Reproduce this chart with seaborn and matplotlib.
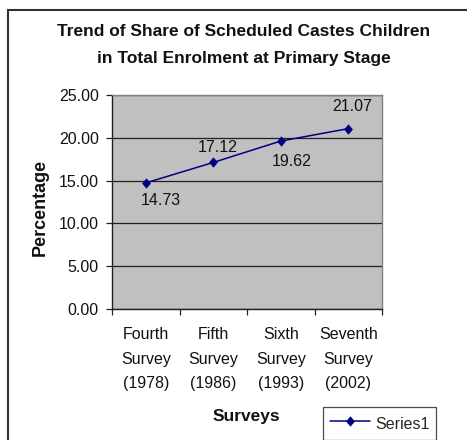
import matplotlib
matplotlib.use("Agg")
import matplotlib.pyplot as plt
from matplotlib.patches import Rectangle
from matplotlib.path import Path
from matplotlib.ticker import FixedLocator, NullFormatter
import seaborn as sns
import pandas as pd

# Survey rounds and the share of Scheduled Castes children (%)
surveys = ["Fourth\nSurvey\n(1978)", "Fifth\nSurvey\n(1986)",
           "Sixth\nSurvey\n(1993)", "Seventh\nSurvey\n(2002)"]
share = [14.73, 17.12, 19.62, 21.07]
series_name = "Series1"
y_ticks = [0, 5, 10, 15, 20, 25]
title_lines = ["Trend of Share of Scheduled Castes Children",
               "in Total Enrolment at Primary Stage"]

df = pd.DataFrame({"pos": range(len(surveys)), "share": share, "series": series_name})

sns.set_theme(style="white")
plt.rcParams["font.family"] = ["Liberation Sans", "DejaVu Sans"]

W, H = 467, 440
fig = plt.figure(figsize=(W / 100, H / 100), dpi=100)
fig.patch.set_facecolor("white")

# outer chart frame (extends past the right and bottom edges)
fig.patches.append(Rectangle((8 / W, -0.2), 2.0, 1 - 10 / H + 0.2,
                             transform=fig.transFigure, fill=False,
                             edgecolor="#303030", linewidth=1.5))

left, right, top, bottom = 112, 382, 95, 309
ax = fig.add_axes([left / W, 1 - bottom / H, (right - left) / W, (bottom - top) / H])
ax.set_facecolor("#C0C0C0")

diamond = Path([(0, 1), (0.85, 0), (0, -1), (-0.85, 0), (0, 1)],
               [Path.MOVETO, Path.LINETO, Path.LINETO, Path.LINETO, Path.CLOSEPOLY])

sns.lineplot(data=df, x="pos", y="share", hue="series", palette=["#000080"],
             marker=diamond, markersize=7.5, markeredgewidth=0,
             linewidth=1.1, ax=ax, legend=True)

# value labels next to each point (offsets in points)
offsets = [(11, -13), (3, 11), (8, -15), (3, 16)]
for i, (v, (dx, dy)) in enumerate(zip(share, offsets)):
    ax.annotate(f"{v:.2f}", (i, v), xytext=(dx, dy), textcoords="offset points",
                ha="center", va="center", fontsize=11.5, color="#111111")

ax.set_xlim(-0.5, len(surveys) - 0.5)
ax.set_ylim(0, 25)
ax.set_yticks(y_ticks)
ax.set_yticklabels([f"{t:.2f}" for t in y_ticks])
ax.yaxis.grid(True, color="#202020", linewidth=0.9)
ax.xaxis.grid(False)

ax.set_xticks(range(len(surveys)))
ax.set_xticklabels(surveys, linespacing=1.8)
ax.xaxis.set_minor_locator(FixedLocator([i - 0.5 for i in range(len(surveys) + 1)]))
ax.xaxis.set_minor_formatter(NullFormatter())
ax.tick_params(axis="x", which="major", length=0, pad=13, labelsize=11.5, colors="#111111")
ax.tick_params(axis="x", which="minor", length=4, width=0.9, color="#202020", direction="out", bottom=True)
ax.tick_params(axis="y", length=4.5, width=0.9, color="#202020", direction="out", pad=5,
               labelsize=11.5, labelcolor="#111111", left=True)

for s in ["left", "bottom"]:
    ax.spines[s].set_color("#202020")
    ax.spines[s].set_linewidth(1.0)
for s in ["top", "right"]:
    ax.spines[s].set_color("#808080")
    ax.spines[s].set_linewidth(1.0)

ax.set_xlabel("Surveys", fontsize=12.5, fontweight="bold", color="#111111")
ax.set_ylabel("Percentage", fontsize=13, fontweight="bold", color="#111111")
ax.xaxis.set_label_coords((246 - left) / (right - left), (bottom - 417) / (bottom - top))
ax.xaxis.label.set_va("center")
ax.yaxis.set_label_coords((40 - left) / (right - left), (bottom - 207) / (bottom - top))
ax.yaxis.label.set_va("center")

# two-line chart title
for line, y_px in zip(title_lines, [32, 58]):
    fig.text(244 / W, 1 - y_px / H, line, ha="center", va="center",
             fontsize=12.5, fontweight="bold", color="#111111")

# legend box below the plot, bottom edge running past the figure
handles, labels = ax.get_legend_handles_labels()
ax.get_legend().remove()
leg = fig.legend(handles, labels, loc="upper left", bbox_to_anchor=(323 / W, 1 - 407 / H),
                 frameon=True, fancybox=False, edgecolor="#202020", fontsize=11.5,
                 handlelength=2.5, handleheight=1.4, handletextpad=0.3,
                 borderpad=0.45, borderaxespad=0)
leg.get_frame().set_linewidth(0.9)

fig.savefig("out.png", dpi=100)
